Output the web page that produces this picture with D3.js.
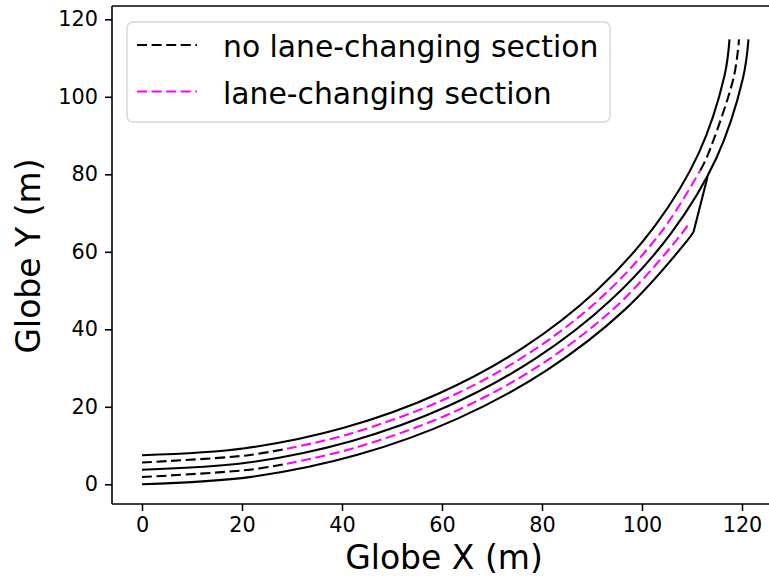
<!DOCTYPE html>
<html>
<head>
<meta charset="utf-8">
<script src="https://cdn.jsdelivr.net/npm/d3@7"></script>
<style>
  html, body { margin: 0; padding: 0; background: #fff; }
  svg { display: block; }
  text { font-family: "DejaVu Sans", sans-serif; fill: #000; }
</style>
</head>
<body>
<svg id="chart" width="769" height="578"></svg>
<script>
// Road edge lines (Globe X, Globe Y in metres)
const innerEdge = [[0,7.5],[20.58,9.30],[40.53,14.65],[59.25,23.38],[76.17,35.22],[90.78,49.83],[102.62,66.75],[111.35,85.47],[116.50,105.42],[117.50,114.8]];
const middleEdge = [[0,3.75],[21.23,5.61],[41.81,11.12],[61.13,20.13],[78.58,32.35],[93.65,47.42],[105.87,64.87],[114.88,84.19],[120.19,104.77],[121.30,114.8]];
const outerEdge = [[0,0],[21.88,1.91],[43.09,7.60],[63.00,16.88],[80.99,29.48],[96.52,45.01],[109.12,63.00],[110.30,65.10]];
const outerTaper = [[110.30,65.10],[113.10,79.30]];

// Lane divider lines, split into plain and lane-changing parts
const upperDividerStart = [[0,5.625],[20.90,7.45],[29.0,9.17]];
const upperDividerChange = [[29.0,9.17],[41.17,12.88],[60.19,21.75],[77.38,33.79],[92.21,48.62],[104.25,65.81],[111.65,81.0]];
const upperDividerEnd = [[111.65,81.0],[113.11,84.83],[118.35,105.10],[119.40,114.8]];
const lowerDividerStart = [[0,1.875],[21.55,3.76],[29.0,5.31]];
const lowerDividerChange = [[29.0,5.31],[42.45,9.36],[62.06,18.50],[79.79,30.91],[95.09,46.21],[107.50,63.94],[109.60,67.73]];

const xTicks = [0, 20, 40, 60, 80, 100, 120];
const yTicks = [0, 20, 40, 60, 80, 100, 120];
const legendLabels = ["no lane-changing section", "lane-changing section"];
const legendColors = ["#000000", "#ff00ff"];

const svg = d3.select("#chart");
const frame = { left: 112, top: 6, bottom: 504, right: 778 };

const x = d3.scaleLinear().domain([0, 120]).range([142, 742]);
const y = d3.scaleLinear().domain([0, 120]).range([484.3, 19.3]);

const smooth = d3.line().x(d => x(d[0])).y(d => y(d[1])).curve(d3.curveCatmullRom.alpha(0.5));
const straight = d3.line().x(d => x(d[0])).y(d => y(d[1]));

const plot = svg.append("g");
const dash = "10,4.6";

function drawLine(data, color, dashed, gen) {
  plot.append("path")
    .attr("d", (gen || smooth)(data))
    .attr("fill", "none")
    .attr("stroke", color)
    .attr("stroke-width", 2.1)
    .attr("stroke-dasharray", dashed ? dash : null);
}

drawLine(innerEdge, "#000", false);
drawLine(middleEdge, "#000", false);
drawLine(outerEdge, "#000", false);
drawLine(outerTaper, "#000", false, straight);
drawLine(upperDividerStart, "#000", true);
drawLine(lowerDividerStart, "#000", true);
drawLine(upperDividerEnd, "#000", true);
drawLine(upperDividerChange, "#ff00ff", true);
drawLine(lowerDividerChange, "#ff00ff", true);

// Axes frame
const spine = svg.append("g").attr("stroke", "#000").attr("stroke-width", 1.6).attr("fill", "none");
spine.append("line").attr("x1", frame.left).attr("x2", frame.left).attr("y1", frame.top).attr("y2", frame.bottom);
spine.append("line").attr("x1", frame.left).attr("x2", frame.right).attr("y1", frame.bottom).attr("y2", frame.bottom);
spine.append("line").attr("x1", frame.left).attr("x2", frame.right).attr("y1", frame.top).attr("y2", frame.top);
spine.append("line").attr("x1", frame.right).attr("x2", frame.right).attr("y1", frame.top).attr("y2", frame.bottom);

// Axes
const xAxis = d3.axisBottom(x).tickValues(xTicks).tickSize(7).tickPadding(6).tickFormat(d3.format("d"));
const gx = svg.append("g").attr("transform", `translate(0,${frame.bottom})`).call(xAxis);
gx.select(".domain").remove();
gx.selectAll("text").attr("font-size", 20.8).attr("font-family", "DejaVu Sans").attr("fill", "#000");
gx.selectAll("line").attr("stroke-width", 1.6);

const yAxis = d3.axisLeft(y).tickValues(yTicks).tickSize(7).tickPadding(7).tickFormat(d3.format("d"));
const gy = svg.append("g").attr("transform", `translate(${frame.left},0)`).call(yAxis);
gy.select(".domain").remove();
gy.selectAll("text").attr("font-size", 20.8).attr("font-family", "DejaVu Sans").attr("fill", "#000");
gy.selectAll("line").attr("stroke-width", 1.6);

// Axis titles
svg.append("text")
  .attr("x", 444).attr("y", 569)
  .attr("text-anchor", "middle")
  .attr("font-size", 33)
  .text("Globe X (m)");
svg.append("text")
  .attr("transform", "translate(40,256) rotate(-90)")
  .attr("text-anchor", "middle")
  .attr("font-size", 33)
  .text("Globe Y (m)");

// Legend
const legend = svg.append("g");
legend.append("rect")
  .attr("x", 127).attr("y", 22).attr("width", 483).attr("height", 100)
  .attr("rx", 6).attr("ry", 6)
  .attr("fill", "#fff").attr("fill-opacity", 0.8)
  .attr("stroke", "#d6d6d6").attr("stroke-width", 1.4);
legendLabels.forEach((label, i) => {
  const cy = 45 + i * 46.5;
  legend.append("line")
    .attr("x1", 137).attr("x2", 197).attr("y1", cy).attr("y2", cy)
    .attr("stroke", legendColors[i]).attr("stroke-width", 2.1)
    .attr("stroke-dasharray", dash);
  legend.append("text")
    .attr("x", 223).attr("y", cy + 12)
    .attr("font-size", 29.8)
    .text(label);
});
</script>
</body>
</html>
